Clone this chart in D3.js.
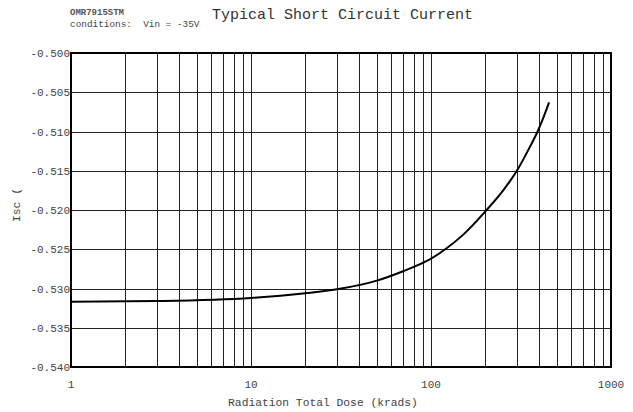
<!DOCTYPE html>
<html><head><meta charset="utf-8">
<script src="https://cdn.jsdelivr.net/npm/d3@7"></script>
<style>body{margin:0;background:#fff}svg{display:block}</style>
</head><body>
<script>
const doseValues = [1, 3, 10, 20, 30, 50, 70, 87, 100, 120, 150, 200, 250, 277, 300, 350, 391, 420, 453];
const iscValues = [-0.5317, -0.5316, -0.5312, -0.5306, -0.5301, -0.5290, -0.5278, -0.5269, -0.5262, -0.5250, -0.5232, -0.5202, -0.5176, -0.5162, -0.5150, -0.5122, -0.5100, -0.5083, -0.5063];
const xTickLabels = ["1", "10", "100", "1000"];
const yTicks = [-0.540, -0.535, -0.530, -0.525, -0.520, -0.515, -0.510, -0.505, -0.500];

const W = 633, H = 412;
const m = {l: 71, r: 22, t: 53, b: 45};
const svg = d3.select("body").append("svg").attr("width", W).attr("height", H);
const x = d3.scaleLog().domain([1, 1000]).range([m.l, W - m.r]);
const y = d3.scaleLinear().domain([-0.540, -0.500]).range([H - m.b, m.t]);
const font = "'Courier New', 'Liberation Mono', monospace";

// vertical grid
const minor = [];
for (let d = 1; d < 1000; d *= 10) for (let k = 2; k <= 9; k++) minor.push(d * k);
minor.push(10, 100);
svg.append("g").selectAll("line").data(minor).join("line")
  .attr("x1", d => Math.round(x(d)) + 0.5).attr("x2", d => Math.round(x(d)) + 0.5)
  .attr("y1", m.t).attr("y2", H - m.b).attr("stroke", "#222").attr("stroke-width", 1);
svg.append("g").selectAll("line").data(yTicks.slice(1, -1)).join("line")
  .attr("x1", m.l).attr("x2", W - m.r)
  .attr("y1", d => Math.round(y(d)) + 0.5).attr("y2", d => Math.round(y(d)) + 0.5)
  .attr("stroke", "#222").attr("stroke-width", 1);

svg.append("rect").attr("x", m.l).attr("y", m.t).attr("width", W - m.l - m.r).attr("height", H - m.t - m.b)
  .attr("fill", "none").attr("stroke", "#000").attr("stroke-width", 2);

// y labels
svg.append("g").selectAll("text").data(yTicks).join("text")
  .attr("x", m.l - 1).attr("y", d => y(d) + 4).attr("text-anchor", "end")
  .attr("font-family", font).attr("font-size", 11).attr("fill", "#444")
  .text(d => d3.format(".3f")(d).replace("−", "-"));
// x labels
svg.append("g").selectAll("text").data(xTickLabels).join("text")
  .attr("x", d => x(+d)).attr("y", 388).attr("text-anchor", "middle")
  .attr("font-family", font).attr("font-size", 11).attr("fill", "#444").text(d => d);

// curve
const line = d3.line().x(d => x(d[0])).y(d => y(d[1])).curve(d3.curveMonotoneX);
svg.append("path").datum(doseValues.map((d, i) => [d, iscValues[i]]))
  .attr("d", line).attr("fill", "none").attr("stroke", "#000").attr("stroke-width", 2);

// texts
svg.append("text").attr("x", 212).attr("y", 19).attr("font-family", font).attr("font-size", 15)
  .attr("fill", "#333").text("Typical Short Circuit Current");
svg.append("text").attr("x", 70).attr("y", 15).attr("font-family", font).attr("font-size", 9)
  .attr("fill", "#555").attr("font-weight", "bold").text("OMR7915STM");
svg.append("text").attr("x", 70).attr("y", 27).attr("font-family", font).attr("font-size", 9.4)
  .attr("fill", "#444").attr("xml:space", "preserve").text("conditions:  Vin = -35V");
svg.append("text").attr("x", 323).attr("y", 406).attr("text-anchor", "middle")
  .attr("font-family", font).attr("font-size", 11.3).attr("fill", "#444").text("Radiation Total Dose (krads)");
svg.append("text").attr("transform", "translate(20,205) rotate(-90)").attr("text-anchor", "middle")
  .attr("font-family", font).attr("font-size", 11.3).attr("fill", "#444").text("Isc (");
</script>
</body></html>
